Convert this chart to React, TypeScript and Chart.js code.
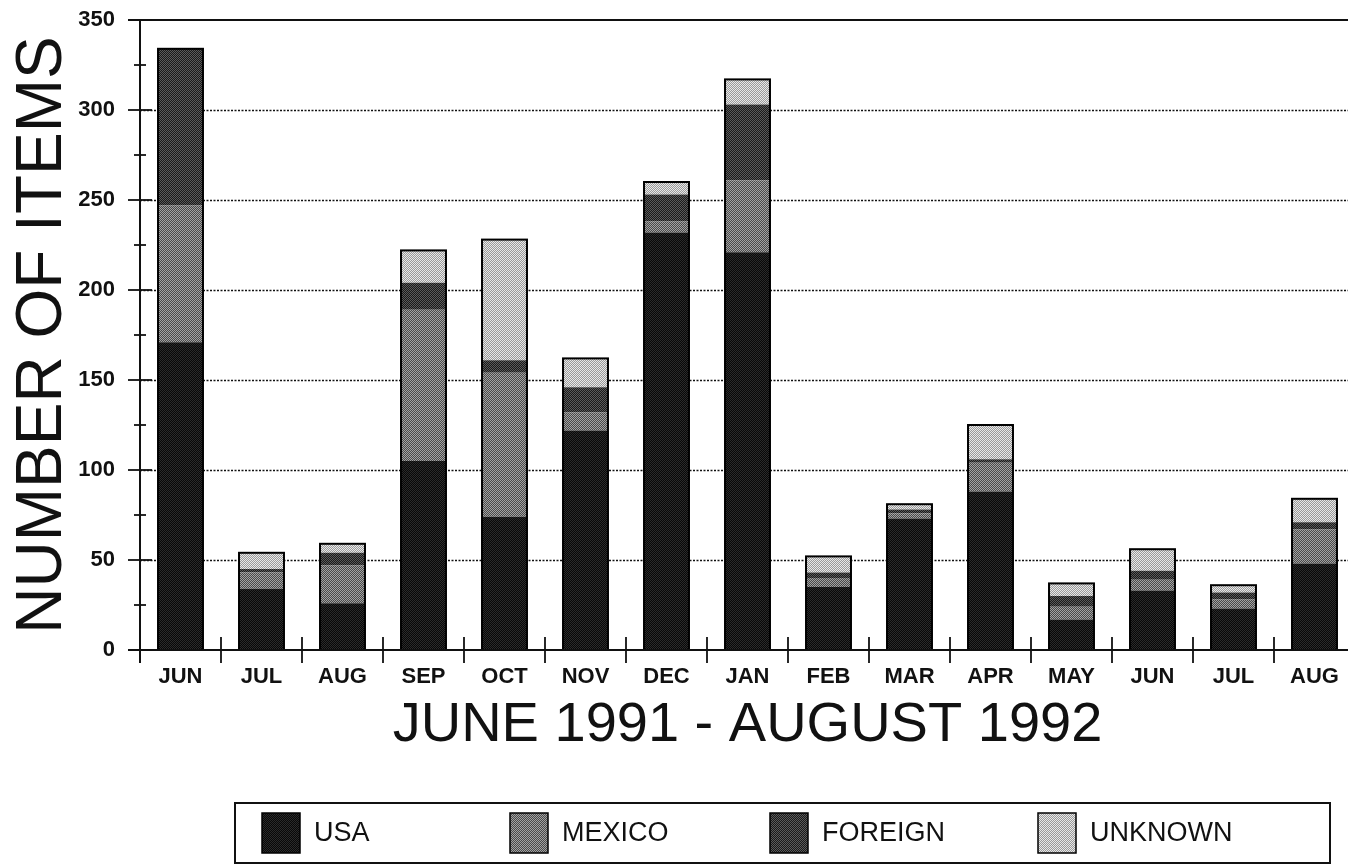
import React, { useEffect, useRef } from 'react';
import { Chart, registerables } from 'chart.js';

Chart.register(...registerables);

// ---- data ----
const months = ['JUN', 'JUL', 'AUG', 'SEP', 'OCT', 'NOV', 'DEC', 'JAN', 'FEB', 'MAR', 'APR', 'MAY', 'JUN', 'JUL', 'AUG'];
const seriesNames = ['USA', 'MEXICO', 'FOREIGN', 'UNKNOWN'];
const usaValues = [171, 34, 26, 105, 74, 122, 232, 221, 35, 73, 88, 17, 33, 23, 48];
const mexicoValues = [76, 9, 21, 84, 80, 10, 6, 40, 5, 3, 16, 7, 6, 5, 19];
const foreignValues = [87, 2, 7, 15, 7, 14, 15, 42, 3, 2, 2, 6, 5, 4, 4];
const unknownValues = [0, 9, 5, 18, 67, 16, 7, 14, 9, 3, 19, 7, 12, 4, 13];
const yTickValues = [0, 50, 100, 150, 200, 250, 300, 350];
const yMinorTickValues = [25, 75, 125, 175, 225, 275, 325];
const xAxisTitle = 'JUNE 1991 - AUGUST 1992';
const yAxisTitle = 'NUMBER OF ITEMS';

// ---- styles ----
const FONT = '"Liberation Sans", Arial, Helvetica, sans-serif';
const INK = '#111111';
const patternColors: [string, string][] = [
  ['#080808', '#2a2a2a'], // USA
  ['#4a4a4a', '#a2a2a2'], // MEXICO
  ['#1a1a1a', '#5a5a5a'], // FOREIGN
  ['#9a9a9a', '#e8e8e8'], // UNKNOWN
];
const legendItemX = [262, 510, 770, 1038];
const legendBox = { left: 235, top: 803, right: 1330, bottom: 863 };

function makePattern(a: string, b: string): CanvasPattern | string {
  const c = document.createElement('canvas');
  c.width = 2;
  c.height = 2;
  const g = c.getContext('2d');
  if (!g) return a;
  g.fillStyle = a;
  g.fillRect(0, 0, 2, 2);
  g.fillStyle = b;
  g.fillRect(0, 0, 1, 1);
  g.fillRect(1, 1, 1, 1);
  const p = g.createPattern(c, 'repeat');
  return p || a;
}

const framePlugin = {
  id: 'framePlugin',
  beforeDatasetsDraw(chart: any) {
    const { ctx, chartArea, scales } = chart;
    const y = scales.y;
    ctx.save();
    ctx.strokeStyle = '#111';
    ctx.lineWidth = 1.6;
    ctx.setLineDash([2, 1.5]);
    yTickValues.forEach((v) => {
      if (v === 0 || v === 350) return;
      const py = Math.round(y.getPixelForValue(v)) + 0.5;
      ctx.beginPath();
      ctx.moveTo(chartArea.left, py);
      ctx.lineTo(chartArea.right, py);
      ctx.stroke();
    });
    ctx.setLineDash([]);
    ctx.lineWidth = 2;
    ctx.strokeStyle = INK;
    const topY = Math.round(y.getPixelForValue(350));
    ctx.beginPath();
    ctx.moveTo(chartArea.left - 12, topY);
    ctx.lineTo(chartArea.right, topY);
    ctx.stroke();
    ctx.restore();
  },
  afterDatasetsDraw(chart: any) {
    const { ctx, chartArea, scales } = chart;
    const x = scales.x;
    const y = scales.y;
    ctx.save();
    // outline around each stacked bar
    ctx.strokeStyle = '#000';
    ctx.lineWidth = 2;
    const n = months.length;
    for (let i = 0; i < n; i++) {
      const baseEl = chart.getDatasetMeta(0).data[i];
      let topEl = baseEl;
      chart.data.datasets.forEach((ds: any, d: number) => {
        if (ds.data[i] > 0) topEl = chart.getDatasetMeta(d).data[i];
      });
      const left = baseEl.x - baseEl.width / 2;
      ctx.strokeRect(left, topEl.y, baseEl.width, baseEl.base - topEl.y);
    }
    // axis lines
    ctx.strokeStyle = INK;
    ctx.lineWidth = 2;
    const bottom = Math.round(y.getPixelForValue(0));
    ctx.beginPath();
    ctx.moveTo(chartArea.left - 12, bottom);
    ctx.lineTo(chartArea.right, bottom);
    ctx.moveTo(chartArea.left, chartArea.top);
    ctx.lineTo(chartArea.left, bottom + 13);
    ctx.stroke();
    // y ticks crossing axis
    ctx.lineWidth = 1.8;
    yTickValues.forEach((v) => {
      const py = Math.round(y.getPixelForValue(v));
      ctx.beginPath();
      ctx.moveTo(chartArea.left - 12, py);
      ctx.lineTo(chartArea.left + 12, py);
      ctx.stroke();
    });
    yMinorTickValues.forEach((v) => {
      const py = Math.round(y.getPixelForValue(v));
      ctx.beginPath();
      ctx.moveTo(chartArea.left - 6, py);
      ctx.lineTo(chartArea.left + 6, py);
      ctx.stroke();
    });
    // x category boundary ticks crossing axis
    for (let i = 1; i < n; i++) {
      const px = Math.round((x.getPixelForValue(i - 1) + x.getPixelForValue(i)) / 2);
      ctx.beginPath();
      ctx.moveTo(px, bottom - 13);
      ctx.lineTo(px, bottom + 13);
      ctx.stroke();
    }
    ctx.restore();
  },
  afterDraw(chart: any) {
    const { ctx } = chart;
    ctx.save();
    ctx.strokeStyle = INK;
    ctx.lineWidth = 2;
    ctx.strokeRect(legendBox.left, legendBox.top, legendBox.right - legendBox.left, legendBox.bottom - legendBox.top);
    chart.data.datasets.forEach((ds: any, d: number) => {
      const lx = legendItemX[d];
      const sq = 38;
      const sy = 813;
      ctx.fillStyle = ds.backgroundColor;
      ctx.fillRect(lx, sy, sq, sq + 2);
      ctx.lineWidth = 1.5;
      ctx.strokeStyle = '#000';
      ctx.strokeRect(lx, sy, sq, sq + 2);
      ctx.fillStyle = INK;
      ctx.font = `27px ${FONT}`;
      ctx.textBaseline = 'middle';
      ctx.textAlign = 'left';
      ctx.fillText(ds.label, lx + 52, sy + 21);
    });
    ctx.restore();
  },
};

export default function App() {
  const canvasRef = useRef<HTMLCanvasElement | null>(null);

  useEffect(() => {
    const canvas = canvasRef.current;
    if (!canvas) return;
    const seriesValues = [usaValues, mexicoValues, foreignValues, unknownValues];
    const chart = new Chart(canvas, {
      type: 'bar',
      data: {
        labels: months,
        datasets: seriesNames.map((name, i) => ({
          label: name,
          data: seriesValues[i],
          backgroundColor: makePattern(patternColors[i][0], patternColors[i][1]) as any,
          borderWidth: 0,
          barPercentage: 0.555,
          categoryPercentage: 1,
        })),
      },
      options: {
        responsive: false,
        animation: false,
        events: [],
        layout: { padding: { top: 20, right: 5, bottom: 102, left: 0 } },
        plugins: {
          legend: { display: false },
          tooltip: { enabled: false },
        },
        scales: {
          x: {
            stacked: true,
            grid: { display: false, drawTicks: false },
            border: { display: false },
            ticks: {
              color: INK,
              padding: 14,
              font: { family: FONT, size: 22, weight: 'bold' },
              maxRotation: 0,
              autoSkip: false,
            },
            title: {
              display: true,
              text: xAxisTitle,
              color: INK,
              font: { family: FONT, size: 56, weight: 'normal' },
              padding: { top: 0, bottom: 3 },
            },
            afterFit(scale: any) {
              scale.height = 112;
            },
          },
          y: {
            stacked: true,
            min: 0,
            max: 350,
            grid: { display: false, drawTicks: true, tickLength: 23 },
            border: { display: false },
            ticks: {
              stepSize: 50,
              color: INK,
              padding: 2,
              font: { family: FONT, size: 22, weight: 'bold' },
            },
            title: {
              display: true,
              text: yAxisTitle,
              color: INK,
              font: { family: FONT, size: 64, weight: 'normal' },
              padding: { top: 5, bottom: 0 },
            },
            afterFit(scale: any) {
              scale.width = 140;
            },
          },
        },
      },
      plugins: [framePlugin],
    });
    return () => chart.destroy();
  }, []);

  return (
    <div style={{ position: 'fixed', left: 0, top: 0, width: 1348, height: 864, overflow: 'hidden', background: '#ffffff' }}>
      <canvas ref={canvasRef} width={1360} height={864} style={{ position: 'absolute', left: 0, top: 0, width: 1360, height: 864 }} />
    </div>
  );
}
